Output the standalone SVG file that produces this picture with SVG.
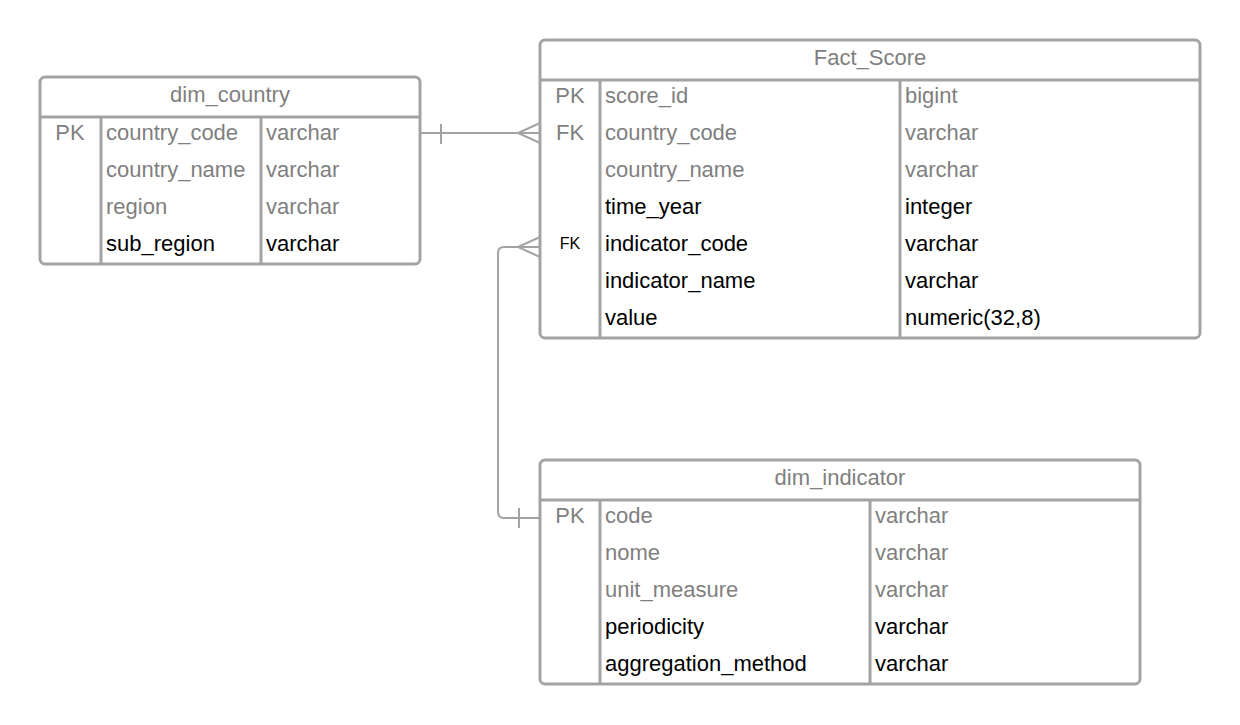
<svg xmlns="http://www.w3.org/2000/svg" width="1240" height="725" viewBox="0 0 1240 725">
<style>
.box{fill:#fff;stroke:#a3a3a3;stroke-width:3}
.ln{fill:none;stroke:#a3a3a3;stroke-width:3}
.cn{fill:none;stroke:#a3a3a3;stroke-width:2}
text{font-family:"Liberation Sans",Arial,sans-serif;font-size:22px}
.g{fill:#7f7f7f}
.b{fill:#000}
.t{text-anchor:middle}
.k{text-anchor:middle}
.s{font-size:16px}
</style>
<rect width="1240" height="725" fill="#fff"/>
<g id="connectors">
<path class="cn" d="M420,133 H540"/>
<path class="cn" d="M441,124 V144"/>
<path class="cn" d="M540,123 L518,133 L540,143"/>
<path class="cn" d="M540,247 H504 Q498,247 498,253 V512 Q498,518 504,518 H540"/>
<path class="cn" d="M540,237 L518,247 L540,257"/>
<path class="cn" d="M519,508 V528"/>
</g>
<g id="dim_country">
<rect class="box" x="40" y="77" width="380" height="187" rx="5"/>
<path class="ln" d="M40,117 H420 M101,117 V264 M261,117 V264"/>
<text class="g t" x="230" y="102">dim_country</text>
<text class="g k" x="70" y="140">PK</text>
<text class="g" x="106" y="140">country_code</text><text class="g" x="266" y="140">varchar</text>
<text class="g" x="106" y="177">country_name</text><text class="g" x="266" y="177">varchar</text>
<text class="g" x="106" y="214">region</text><text class="g" x="266" y="214">varchar</text>
<text class="b" x="106" y="251">sub_region</text><text class="b" x="266" y="251">varchar</text>
</g>
<g id="fact_score">
<rect class="box" x="540" y="40" width="660" height="298" rx="5"/>
<path class="ln" d="M540,80 H1200 M600,80 V338 M900,80 V338"/>
<text class="g t" x="870" y="65">Fact_Score</text>
<text class="g k" x="570" y="103">PK</text>
<text class="g" x="605" y="103">score_id</text><text class="g" x="905" y="103">bigint</text>
<text class="g k" x="570" y="140">FK</text>
<text class="g" x="605" y="140">country_code</text><text class="g" x="905" y="140">varchar</text>
<text class="g" x="605" y="177">country_name</text><text class="g" x="905" y="177">varchar</text>
<text class="b" x="605" y="214">time_year</text><text class="b" x="905" y="214">integer</text>
<text class="b k s" x="570" y="249">FK</text>
<text class="b" x="605" y="251">indicator_code</text><text class="b" x="905" y="251">varchar</text>
<text class="b" x="605" y="288">indicator_name</text><text class="b" x="905" y="288">varchar</text>
<text class="b" x="605" y="325">value</text><text class="b" x="905" y="325">numeric(32,8)</text>
</g>
<g id="dim_indicator">
<rect class="box" x="540" y="460" width="600" height="224" rx="5"/>
<path class="ln" d="M540,500 H1140 M600,500 V684 M870,500 V684"/>
<text class="g t" x="840" y="485">dim_indicator</text>
<text class="g k" x="570" y="523">PK</text>
<text class="g" x="605" y="523">code</text><text class="g" x="875" y="523">varchar</text>
<text class="g" x="605" y="560">nome</text><text class="g" x="875" y="560">varchar</text>
<text class="g" x="605" y="597">unit_measure</text><text class="g" x="875" y="597">varchar</text>
<text class="b" x="605" y="634">periodicity</text><text class="b" x="875" y="634">varchar</text>
<text class="b" x="605" y="671">aggregation_method</text><text class="b" x="875" y="671">varchar</text>
</g>
</svg>
